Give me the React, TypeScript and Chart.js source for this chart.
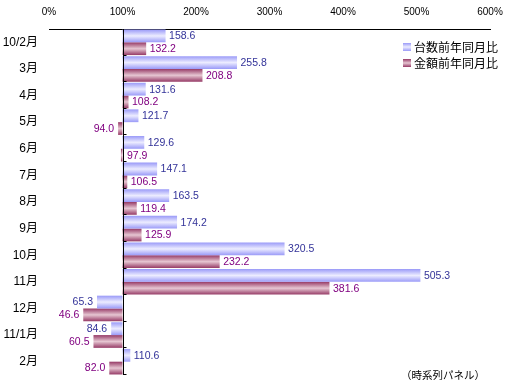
import React, { useEffect, useRef } from "react";
import { Chart, registerables } from "chart.js";

Chart.register(...registerables);

const categories = ["10/2月", "3月", "4月", "5月", "6月", "7月", "8月", "9月", "10月", "11月", "12月", "11/1月", "2月"];
const unitRatio = [158.6, 255.8, 131.6, 121.7, 129.6, 147.1, 163.5, 174.2, 320.5, 505.3, 65.3, 84.6, 110.6];
const amountRatio = [132.2, 208.8, 108.2, 94.0, 97.9, 106.5, 119.4, 125.9, 232.2, 381.6, 46.6, 60.5, 82.0];
const seriesNames = ["台数前年同月比", "金額前年同月比"];
const xTicks = [0, 100, 200, 300, 400, 500, 600];
const baseValue = 100;

const FONT = 'Arial, "Liberation Sans", "Noto Sans CJK JP", sans-serif';
const BLUE_EDGE = "#9a9af8";
const BLUE_MID = "#ececff";
const RED_EDGE = "#963a66";
const RED_MID = "#e6c6d2";
const labelColors = ["#333399", "#800080"];

const gradientPlugin = {
  id: "barGradient",
  beforeDatasetsDraw(chart: any) {
    const ctx = chart.ctx;
    chart.data.datasets.forEach((ds: any, di: number) => {
      const meta = chart.getDatasetMeta(di);
      const edge = di === 0 ? BLUE_EDGE : RED_EDGE;
      const mid = di === 0 ? BLUE_MID : RED_MID;
      meta.data.forEach((el: any) => {
        const { y, height } = el.getProps(["y", "height"], true);
        const top = y - height / 2;
        const g = ctx.createLinearGradient(0, top, 0, top + height);
        g.addColorStop(0, edge);
        g.addColorStop(0.5, mid);
        g.addColorStop(1, edge);
        el.options = { ...el.options, backgroundColor: g };
      });
    });
  },
};

const axisPlugin = {
  id: "baseAxis",
  afterDatasetsDraw(chart: any) {
    const ctx = chart.ctx;
    const xs = chart.scales.x;
    const area = chart.chartArea;
    const bx = Math.round(xs.getPixelForValue(baseValue)) + 0.5;
    ctx.save();
    ctx.strokeStyle = "#000";
    ctx.lineWidth = 1;
    ctx.beginPath();
    ctx.moveTo(bx, area.top);
    ctx.lineTo(bx, area.bottom);
    const n = categories.length;
    const band = (area.bottom - area.top) / n;
    for (let i = 1; i <= n; i++) {
      const yy = Math.round(area.top + i * band) - 0.5;
      ctx.moveTo(bx, yy);
      ctx.lineTo(bx + 3, yy);
    }
    ctx.stroke();

    // data labels
    ctx.font = "10.5px " + FONT;
    ctx.textBaseline = "middle";
    chart.data.datasets.forEach((ds: any, di: number) => {
      const meta = chart.getDatasetMeta(di);
      const vals = di === 0 ? unitRatio : amountRatio;
      ctx.fillStyle = labelColors[di];
      meta.data.forEach((el: any, i: number) => {
        const v = vals[i];
        const { y } = el.getProps(["y"], true);
        const ex = xs.getPixelForValue(v);
        const txt = v.toFixed(1);
        if (v >= baseValue || baseValue - v < 3) {
          ctx.textAlign = "left";
          ctx.fillText(txt, Math.max(ex, bx) + 3.5, y + 0.5);
        } else {
          ctx.textAlign = "right";
          ctx.fillText(txt, ex - 4, y + 0.5);
        }
      });
    });
    ctx.restore();
  },
};

export default function App() {
  const ref = useRef<HTMLCanvasElement>(null);
  useEffect(() => {
    const chart = new Chart(ref.current as HTMLCanvasElement, {
      type: "bar",
      data: {
        labels: categories,
        datasets: [
          { label: seriesNames[0], data: unitRatio.map((v) => [baseValue, v]) as any, backgroundColor: BLUE_EDGE, borderWidth: 0 },
          { label: seriesNames[1], data: amountRatio.map((v) => [baseValue, v]) as any, backgroundColor: RED_EDGE, borderWidth: 0 },
        ],
      },
      options: {
        indexAxis: "y",
        responsive: false,
        animation: false,
        layout: { padding: { left: 0, right: 17, top: 0, bottom: 10 } },
        plugins: { legend: { display: false }, tooltip: { enabled: false } },
        datasets: { bar: { categoryPercentage: 0.96, barPercentage: 1 } },
        scales: {
          x: {
            type: "linear",
            position: "top",
            min: 0,
            max: 600,
            afterBuildTicks: (s: any) => {
              s.ticks = xTicks.map((v) => ({ value: v }));
            },
            afterFit: (s: any) => {
              s.height = 29;
              s.paddingLeft = 0;
              s.paddingRight = 0;
            },
            ticks: {
              callback: (v: any) => v + "%",
              font: { family: FONT, size: 10 },
              color: "#000",
              padding: 11,
              maxRotation: 0,
              autoSkip: false,
            },
            grid: { display: false, drawTicks: false },
            border: { display: true, color: "#000", width: 1 },
          },
          y: {
            afterFit: (s: any) => {
              s.width = 49;
              s.paddingTop = 0;
              s.paddingBottom = 0;
            },
            ticks: {
              font: { family: FONT, size: 12 },
              color: "#000",
              padding: 11,
              autoSkip: false,
            },
            grid: { display: false, drawTicks: false },
            border: { display: false },
          },
        },
      },
      plugins: [gradientPlugin, axisPlugin],
    } as any);
    return () => chart.destroy();
  }, []);

  const legendSwatch = (edge: string, mid: string) => ({
    position: "absolute" as const,
    left: 0,
    top: 3,
    width: 8,
    height: 8,
    background: `linear-gradient(to bottom, ${edge}, ${mid}, ${edge})`,
  });

  return (
    <div style={{ position: "absolute", left: 0, top: 0, width: 507, height: 385, background: "#fff", fontFamily: FONT }}>
      <canvas ref={ref} width={507} height={385} style={{ display: "block" }} />
      <div style={{ position: "absolute", left: 403, top: 40, fontSize: 12, lineHeight: "16px", color: "#000" }}>
        <div style={{ position: "relative", paddingLeft: 11, height: 16, whiteSpace: "nowrap" }}>
          <span style={legendSwatch(BLUE_EDGE, BLUE_MID)} />
          {seriesNames[0]}
        </div>
        <div style={{ position: "relative", paddingLeft: 11, height: 16, whiteSpace: "nowrap" }}>
          <span style={legendSwatch(RED_EDGE, RED_MID)} />
          {seriesNames[1]}
        </div>
      </div>
      <div style={{ position: "absolute", left: 401, top: 368, fontSize: 10.5, lineHeight: "14px", color: "#000", whiteSpace: "nowrap" }}>
        （時系列パネル）
      </div>
    </div>
  );
}
